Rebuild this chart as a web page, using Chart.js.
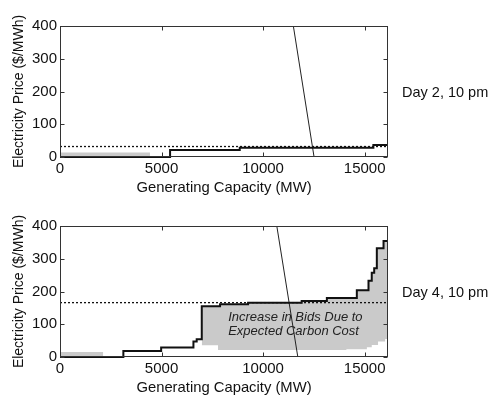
<!DOCTYPE html>
<html>
<head>
<meta charset="utf-8">
<script src="https://cdn.jsdelivr.net/npm/chart.js@4/dist/chart.umd.min.js"></script>
<style>
  html, body { margin: 0; padding: 0; background: #fff; overflow: hidden; }
  canvas { display: block; }
</style>
</head>
<body>
<canvas id="day2" width="491" height="200"></canvas>
<canvas id="day4" width="491" height="200"></canvas>
<script>
  const xTicks = [0, 5000, 10000, 15000];
  const yTicks = [0, 100, 200, 300, 400];
  const xMax = 16150;

  // Day 2, 10 pm - supply curve (capacity where each bid starts, price of that bid)
  const day2Caps = [0, 5420, 8850, 15430, 16150];
  const day2Prices = [0, 21, 28, 37, 37];
  const day2Clearing = 32;
  const day2DemandCaps = [11490, 12510];
  const day2DemandPrices = [400, 0];
  const day2LowCaps = [0, 4430];
  const day2LowPrices = [14, 14];

  // Day 4, 10 pm
  const day4Caps = [0, 3120, 4980, 6570, 6730, 6980, 7880, 9260, 11900, 13140, 14615, 15190, 15350, 15470, 15600, 15930, 16150];
  const day4Prices = [0, 18, 29, 47, 54, 155, 161, 166, 171, 180, 204, 233, 257, 271, 332, 354, 354];
  const day4Clearing = 166;
  const day4DemandCaps = [10675, 11710];
  const day4DemandPrices = [400, 0];
  const day4LowCaps = [0, 2130];
  const day4LowPrices = [15, 15];
  // bids without the carbon cost (bottom of the grey band)
  const day4BaseCaps = [6980, 7780, 14100, 15110, 15350, 15660, 16010, 16150];
  const day4BasePrices = [36, 21, 24, 30, 37, 47, 55, 55];
  const carbonStart = 6980;

  const noteLines = ['Increase in Bids Due to', 'Expected Carbon Cost'];
  const noteCap = 8280;
  const notePrices = [122, 77];

  const grey = '#cacaca';
  Chart.defaults.font.family = '"Liberation Sans", Arial, sans-serif';
  Chart.defaults.color = '#111';

  function pts(xs, ys) {
    return xs.map((x, i) => ({ x: x, y: ys[i] }));
  }

  // MATLAB style box with inward ticks, plus side label and note
  const boxPlugin = {
    id: 'box',
    afterDatasetDraw(chart, args, opts) {
      if (!opts.notes || args.index !== opts.noteAfter) return;
      const { ctx, scales: { x, y } } = chart;
      ctx.save();
      ctx.font = 'italic 13px "Liberation Sans", Arial, sans-serif';
      ctx.fillStyle = '#222';
      ctx.textBaseline = 'middle';
      opts.notes.forEach((t, i) => {
        ctx.fillText(t, x.getPixelForValue(noteCap), y.getPixelForValue(notePrices[i]));
      });
      ctx.restore();
    },
    afterDraw(chart, args, opts) {
      const { ctx, chartArea: a, scales: { x, y } } = chart;
      const l = Math.round(a.left) + 0.5, r = Math.round(a.right) - 0.5;
      const t = Math.round(a.top) + 0.5, b = Math.round(a.bottom) - 0.5;
      ctx.save();
      ctx.strokeStyle = '#333';
      ctx.lineWidth = 1;
      ctx.strokeRect(l, t, r - l, b - t);
      ctx.beginPath();
      xTicks.forEach(v => {
        const px = Math.round(x.getPixelForValue(v)) + 0.5;
        ctx.moveTo(px, b); ctx.lineTo(px, b - 4);
        ctx.moveTo(px, t); ctx.lineTo(px, t + 4);
      });
      yTicks.forEach(v => {
        const py = Math.round(y.getPixelForValue(v)) + 0.5;
        ctx.moveTo(l, py); ctx.lineTo(l + 4, py);
        ctx.moveTo(r, py); ctx.lineTo(r - 4, py);
      });
      ctx.stroke();
      ctx.font = '14.5px "Liberation Sans", Arial, sans-serif';
      ctx.fillStyle = '#111';
      ctx.textBaseline = 'middle';
      ctx.fillText(opts.day, a.right + 14, (a.top + a.bottom) / 2 + 1);
      ctx.restore();
    }
  };

  function makeChart(id, d) {
    const datasets = [
      { data: pts(d.caps, d.prices), stepped: true, borderColor: '#111', borderWidth: 2, clip: 2 },
      { data: pts(d.demandCaps, d.demandPrices), borderColor: '#222', borderWidth: 1 },
      { data: pts([0, xMax], [d.clearing, d.clearing]), borderColor: '#111', borderWidth: 1.3, borderDash: [2, 2] },
      { data: pts(d.lowCaps, d.lowPrices), stepped: true, borderWidth: 0, backgroundColor: grey, fill: 'origin' }
    ];
    if (d.baseCaps) {
      const upCaps = d.caps.filter(c => c >= carbonStart);
      const upPrices = d.prices.filter((p, i) => d.caps[i] >= carbonStart);
      datasets.push({ data: pts(upCaps, upPrices), stepped: true, borderWidth: 0, backgroundColor: grey, fill: { target: 5 } });
      datasets.push({ data: pts(d.baseCaps, d.basePrices), stepped: true, borderWidth: 0, fill: false });
    }
    return new Chart(document.getElementById(id), {
      type: 'line',
      data: { datasets: datasets },
      options: {
        responsive: false,
        animation: false,
        events: [],
        elements: { point: { radius: 0 }, line: { tension: 0 } },
        layout: { padding: { top: 26, right: 103, left: 0, bottom: 0 } },
        plugins: {
          legend: { display: false },
          tooltip: { enabled: false },
          box: { day: d.day, notes: d.notes, noteAfter: 4 }
        },
        scales: {
          x: {
            type: 'linear', min: 0, max: xMax,
            grid: { display: false, drawTicks: false },
            border: { display: false },
            afterBuildTicks: s => { s.ticks = xTicks.map(v => ({ value: v })); },
            afterFit: s => { s.height = 43; },
            ticks: { padding: 3, maxRotation: 0, autoSkip: false, font: { size: 15 }, callback: v => String(v) },
            title: { display: true, text: 'Generating Capacity (MW)', font: { size: 14.8 }, padding: { top: 0, bottom: 3 } }
          },
          y: {
            type: 'linear', min: 0, max: 400,
            grid: { display: false, drawTicks: false },
            border: { display: false },
            afterBuildTicks: s => { s.ticks = yTicks.map(v => ({ value: v })); },
            afterFit: s => { s.width = 60; },
            ticks: { padding: 3, font: { size: 15 }, callback: v => String(v) },
            title: { display: true, text: 'Electricity Price ($/MWh)', font: { size: 14 }, padding: { top: 11, bottom: 0 } }
          }
        }
      },
      plugins: [boxPlugin]
    });
  }

  makeChart('day2', {
    caps: day2Caps, prices: day2Prices, clearing: day2Clearing,
    demandCaps: day2DemandCaps, demandPrices: day2DemandPrices,
    lowCaps: day2LowCaps, lowPrices: day2LowPrices,
    day: 'Day 2, 10 pm'
  });

  makeChart('day4', {
    caps: day4Caps, prices: day4Prices, clearing: day4Clearing,
    demandCaps: day4DemandCaps, demandPrices: day4DemandPrices,
    lowCaps: day4LowCaps, lowPrices: day4LowPrices,
    baseCaps: day4BaseCaps, basePrices: day4BasePrices,
    day: 'Day 4, 10 pm', notes: noteLines
  });
</script>
</body>
</html>
